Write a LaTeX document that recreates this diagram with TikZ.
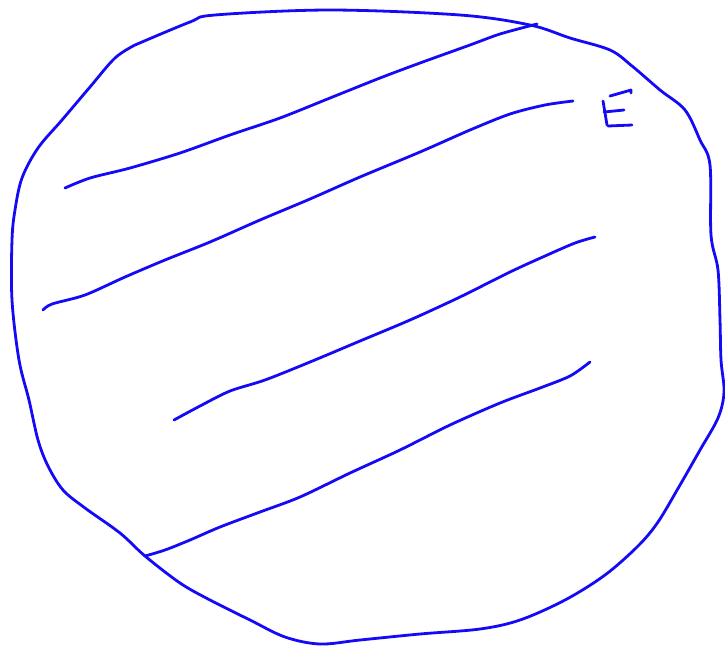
\documentclass[tikz,border=0pt]{standalone}
\begin{document}
\begin{tikzpicture}[x=1pt,y=-1pt,
  stroke/.style={draw={rgb,255:red,20;green,10;blue,245},line width=2.8pt,line cap=round,line join=round}]
\useasboundingbox (0,0) rectangle (725,649);
% outline
\draw[stroke] plot[smooth,tension=0.55] coordinates {(135,45) (190,22) (215,15) (330,10) (460,15) (530,25) (570,38) (610,50) (632,66) (660,90) (685,110) (700,140) (710,165) (711,235) (718,270) (720,320) (721,360) (724,392) (718,418) (700,450) (680,485) (658,522) (638,546) (605,575) (565,600) (520,620) (480,629) (420,634) (360,640) (320,644) (285,637) (250,620) (210,600) (180,583) (145,556) (120,533) (85,508) (63,490) (48,466) (38,440) (29,400) (19,360) (12,300) (12,240) (15,210) (22,178) (38,148) (62,120) (90,87) (115,58) (135,45)};
% hatching lines
\draw[stroke] plot[smooth,tension=0.5] coordinates {(65,188) (90,178) (130,168) (180,153) (230,135) (280,118) (330,98) (380,78) (420,63) (470,45) (500,34) (537,24)};
\draw[stroke] plot[smooth,tension=0.5] coordinates {(43,310) (52,304) (85,295) (125,277) (165,260) (210,242) (260,220) (310,199) (360,177) (420,152) (470,130) (510,114) (545,105) (573,101)};
\draw[stroke] plot[smooth,tension=0.5] coordinates {(174,420) (200,406) (230,391) (265,380) (310,362) (360,341) (410,320) (460,297) (510,272) (545,256) (575,243) (595,237)};
\draw[stroke] plot[smooth,tension=0.5] coordinates {(145,556) (165,550) (190,540) (220,527) (260,512) (300,497) (350,473) (400,450) (450,425) (500,403) (540,388) (570,376) (590,362)};
% letter E
\draw[stroke] (610,96) -- (631,90) -- (631,93);
\draw[stroke] (603,101) -- (607,125);
\draw[stroke] (604,112) -- (624,110);
\draw[stroke] (608,126) -- (632,125);
\end{tikzpicture}
\end{document}
